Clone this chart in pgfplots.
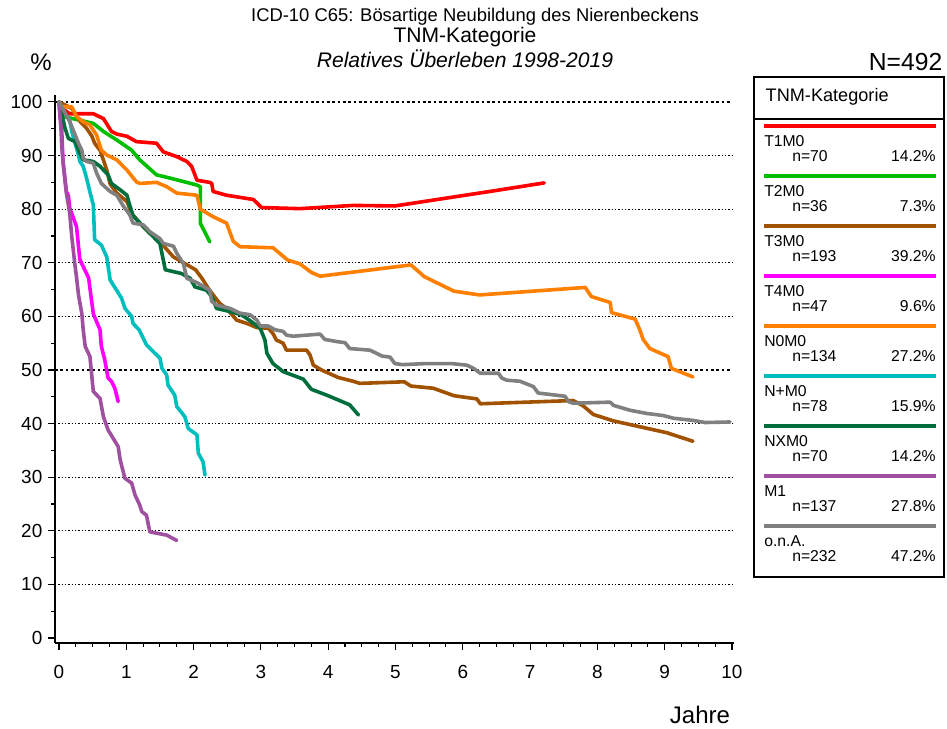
\documentclass[border=0pt]{standalone}
\usepackage{pgfplots}
\pgfplotsset{compat=1.18}
\usepackage{fontspec}
\setmainfont{Liberation Sans}
\definecolor{cTa}{RGB}{255,0,0}
\definecolor{cTb}{RGB}{0,190,0}
\definecolor{cTc}{RGB}{160,82,0}
\definecolor{cTd}{RGB}{255,0,255}
\definecolor{cNa}{RGB}{255,128,0}
\definecolor{cNb}{RGB}{0,190,190}
\definecolor{cNc}{RGB}{0,110,60}
\definecolor{cMa}{RGB}{160,80,160}
\definecolor{cOn}{RGB}{128,128,128}
% pixel coordinates of the 947x729 reference -> pt
\newcommand{\pc}[2]{({(#1)*0.75pt},{(729-(#2))*0.75pt})}
\begin{document}
\begin{tikzpicture}
\path[use as bounding box] (0,0) rectangle (710.25pt,546.75pt);
\begin{axis}[
    at={(41.25pt,64.5pt)}, anchor=south west,
    scale only axis,
    width=509.25pt, height=411pt,
    xmin=-0.059, xmax=10.03,
    ymin=-0.93, ymax=101.3,
    axis lines*=left,
    axis line style={line width=0.9pt, -},
    xtick={0,1,...,10},
    minor x tick num=3,
    ytick={0,10,...,100},
    minor y tick num=1,
    tick align=outside,
    tick style={black, line width=0.8pt},
    major tick length=5pt,
    minor tick length=3pt,
    /pgf/number format/assume math mode=true,
    tick label style={font=\fontsize{14.2}{15}\selectfont},
    xticklabel style={yshift=-8pt},
    yticklabel style={xshift=-1pt},
    clip=false,
    every axis plot/.append style={line width=2.7pt, line join=round, line cap=round, mark=none},
]
% grid lines
\foreach \g in {10,20,30,40,60,70,80,90}{
  \edef\tmp{\noexpand\draw[black, line width=0.9pt, dash pattern=on 0.9pt off 1.6pt] (axis cs:-0.059,\g) -- (axis cs:10,\g);}\tmp
}
\draw[black, line width=2pt, dash pattern=on 2pt off 2pt] (axis cs:-0.059,50) -- (axis cs:10,50);
\draw[black, line width=2pt, dash pattern=on 2pt off 2pt] (axis cs:-0.059,100) -- (axis cs:10,100);

% T1M0
\addplot[cTa] coordinates {
(0,100)(0.08,98.5)(0.16,97.8)(0.51,97.8)(0.66,96.9)(0.78,94.5)(0.86,94.0)(1.01,93.6)(1.15,92.6)(1.45,92.3)(1.55,90.7)(1.75,89.8)(1.90,88.9)(1.97,88.0)(2.02,86.4)(2.05,85.4)(2.24,85.0)(2.27,84.8)(2.29,83.3)(2.49,82.6)(2.89,81.8)(3.01,80.3)(3.58,80.1)(4.37,80.7)(4.99,80.6)(6.40,83.3)(7.21,84.9)
};
% T2M0
\addplot[cTb] coordinates {
(0,100)(0.06,97.3)(0.31,96.6)(0.51,96.0)(0.66,94.5)(0.86,92.9)(1.08,91.0)(1.20,89.2)(1.45,86.4)(1.65,85.8)(2.05,84.5)(2.10,84.2)(2.10,77.4)(2.24,73.9)
};
% T3M0
\addplot[cTc] coordinates {
(0,100)(0.19,98.8)(0.31,96.4)(0.41,95.1)(0.49,93.6)(0.53,92.3)(0.61,91.0)(0.66,89.2)(0.71,87.3)(0.76,84.7)(0.86,83.0)(1.01,81.4)(1.08,79.2)(1.20,77.4)(1.35,75.5)(1.45,74.7)(1.58,72.8)(1.70,71.1)(1.85,70.0)(2.03,68.7)(2.13,67.0)(2.23,65.0)(2.39,62.4)(2.49,61.5)(2.64,59.3)(2.79,58.7)(2.94,57.9)(3.11,57.8)(3.18,56.8)(3.23,55.6)(3.33,55.0)(3.38,53.7)(3.68,53.7)(3.73,52.8)(3.78,50.9)(3.90,50.0)(4.15,48.6)(4.37,47.9)(4.47,47.5)(5.13,47.8)(5.23,47.0)(5.56,46.6)(5.87,45.2)(6.21,44.6)(6.26,43.7)(7.64,44.3)(7.79,43.3)(7.94,41.7)(8.24,40.5)(9.03,38.3)(9.42,36.7)
};
% T4M0
\addplot[cTd] coordinates {
(0,100)(0.02,97)(0.04,95.1)(0.06,88.9)(0.11,83.3)(0.14,82.5)(0.16,80.2)(0.21,78.5)(0.26,76.8)(0.31,70.6)(0.44,67.2)(0.51,60.5)(0.61,57.5)(0.63,54.4)(0.68,51.9)(0.73,48.5)(0.78,47.9)(0.83,46.6)(0.88,44.1)
};
% N0M0
\addplot[cNa] coordinates {
(0,100)(0.04,99.1)(0.19,99.1)(0.26,97.3)(0.36,96.3)(0.46,95.7)(0.56,93.8)(0.63,91.0)(0.71,90.1)(0.86,89.2)(1.01,87.3)(1.15,85.1)(1.20,84.8)(1.45,85.0)(1.60,84.2)(1.75,83.0)(2.05,82.6)(2.10,80.0)(2.29,78.6)(2.49,77.4)(2.59,74.0)(2.69,73.0)(3.18,72.8)(3.40,70.5)(3.58,69.8)(3.75,68.2)(3.88,67.5)(5.23,69.6)(5.43,67.4)(5.87,64.7)(6.25,64.0)(7.82,65.4)(7.91,63.7)(8.19,62.6)(8.21,60.7)(8.56,59.5)(8.63,57.5)(8.68,55.7)(8.78,54.0)(9.05,52.5)(9.10,50.3)(9.42,48.7)
};
% N+M0
\addplot[cNb] coordinates {
(0,100)(0.06,98.2)(0.16,96.6)(0.19,94.5)(0.29,90.1)(0.31,88.9)(0.36,88.0)(0.41,85.8)(0.46,83.2)(0.51,80.8)(0.53,74.3)(0.63,73.3)(0.71,71.1)(0.76,66.8)(0.93,63.4)(0.98,61.5)(1.08,60.0)(1.10,58.7)(1.19,57.5)(1.30,54.7)(1.50,52.2)(1.53,50.3)(1.60,49.1)(1.62,47.2)(1.72,45.3)(1.75,43.2)(1.87,41.3)(1.92,39.1)(2.05,37.9)(2.07,34.5)(2.14,32.9)(2.17,30.4)
};
% NXM0
\addplot[cNc] coordinates {
(0,100)(0.04,97.9)(0.09,95.1)(0.14,93.2)(0.24,92.6)(0.31,90.4)(0.36,89.2)(0.51,88.9)(0.61,88.0)(0.73,86.4)(0.78,84.8)(0.91,83.6)(1.01,82.6)(1.05,80.8)(1.10,78.8)(1.25,76.8)(1.50,73.6)(1.58,68.7)(1.82,68.0)(1.95,67.1)(2.02,65.5)(2.19,64.9)(2.27,63.7)(2.34,61.5)(2.54,60.9)(2.71,60.3)(2.84,59.2)(2.99,57.8)(3.06,55.6)(3.09,53.1)(3.18,51.2)(3.33,49.7)(3.63,48.3)(3.75,46.4)(3.98,45.3)(4.32,43.5)(4.45,41.6)
};
% M1
\addplot[cMa] coordinates {
(0,100)(0.03,95)(0.04,92.0)(0.06,88.9)(0.11,83.0)(0.14,80.8)(0.16,79.2)(0.19,74.9)(0.24,69.3)(0.26,67.4)(0.29,64.0)(0.34,60.5)(0.36,57.5)(0.39,54.4)(0.46,52.5)(0.51,46.0)(0.61,44.7)(0.66,41.3)(0.73,38.8)(0.88,35.7)(0.91,33.2)(0.98,29.8)(1.08,28.9)(1.13,26.7)(1.20,24.8)(1.23,23.6)(1.30,22.9)(1.35,19.8)(1.60,19.2)(1.75,18.2)
};
% o.n.A.
\addplot[cOn] coordinates {
(0,100)(0.09,98.0)(0.16,96.3)(0.21,94.8)(0.29,92.3)(0.34,91.0)(0.36,89.5)(0.41,88.9)(0.51,88.6)(0.56,86.7)(0.63,84.8)(0.76,83.3)(0.86,82.6)(0.96,80.5)(1.05,79.0)(1.10,77.4)(1.25,77.1)(1.35,75.8)(1.50,74.5)(1.55,73.6)(1.70,73.1)(1.75,71.8)(1.85,69.8)(1.90,67.1)(2.05,66.3)(2.24,64.9)(2.27,62.8)(2.34,62.1)(2.54,61.5)(2.69,60.6)(2.84,60.3)(2.94,59.3)(2.99,58.2)(3.11,58.2)(3.21,57.5)(3.33,57.2)(3.38,56.5)(3.48,56.3)(3.88,56.7)(3.95,55.7)(4.13,55.3)(4.25,55.1)(4.32,54.0)(4.62,53.7)(4.72,53.1)(4.80,52.6)(4.92,52.4)(4.99,51.2)(5.10,51.0)(5.46,51.2)(5.83,51.2)(6.06,50.9)(6.16,50.3)(6.26,49.4)(6.53,49.4)(6.58,48.5)(6.65,48.1)(6.85,47.9)(7.05,46.9)(7.12,45.7)(7.52,45.1)(7.57,44.1)(7.64,43.8)(8.19,44.0)(8.24,43.4)(8.48,42.5)(8.73,41.9)(8.98,41.5)(9.13,41.0)(9.42,40.6)(9.60,40.2)(9.97,40.3)
};
\end{axis}

% titles
\node[font=\fontsize{13.8}{15}\selectfont] at \pc{475}{17} {ICD-10 C65: Bösartige Neubildung des Nierenbeckens};
\node[font=\fontsize{15.8}{17}\selectfont] at \pc{465}{37} {TNM-Kategorie};
\node[font=\fontsize{15.8}{17}\selectfont\itshape] at \pc{465}{59} {Relatives Überleben 1998-2019};
\node[font=\fontsize{18}{19}\selectfont] at \pc{41}{62} {\%};
\node[font=\fontsize{18.5}{19}\selectfont, anchor=east] at \pc{947}{62} {N=492};
\node[font=\fontsize{18}{19}\selectfont] at \pc{700}{715} {Jahre};

% legend
\draw[line width=0.9pt] \pc{754}{77} rectangle \pc{944}{577};
\draw[line width=0.9pt] \pc{754}{119} -- \pc{944}{119};
\node[anchor=west, font=\fontsize{13.6}{15}\selectfont] at \pc{761}{97} {TNM-Kategorie};
\foreach \c/\nm/\n/\p [count=\i from 0] in {cTa/T1M0/70/14.2, cTb/T2M0/36/7.3, cTc/T3M0/193/39.2, cTd/T4M0/47/9.6, cNa/N0M0/134/27.2, cNb/N+M0/78/15.9, cNc/NXM0/70/14.2, cMa/M1/137/27.8, cOn/o.n.A./232/47.2}{
  \draw[\c, line width=2.7pt] \pc{764}{126+50*\i} -- \pc{936}{126+50*\i};
  \node[anchor=west, inner sep=0pt, font=\fontsize{11.8}{13}\selectfont] at \pc{764}{141+50*\i} {\nm};
  \node[anchor=west, inner sep=0pt, font=\fontsize{11.8}{13}\selectfont] at \pc{792}{156+50*\i} {n=\n};
  \node[anchor=east, inner sep=0pt, font=\fontsize{11.8}{13}\selectfont] at \pc{936}{156+50*\i} {\p\%};
}
\end{tikzpicture}
\end{document}
